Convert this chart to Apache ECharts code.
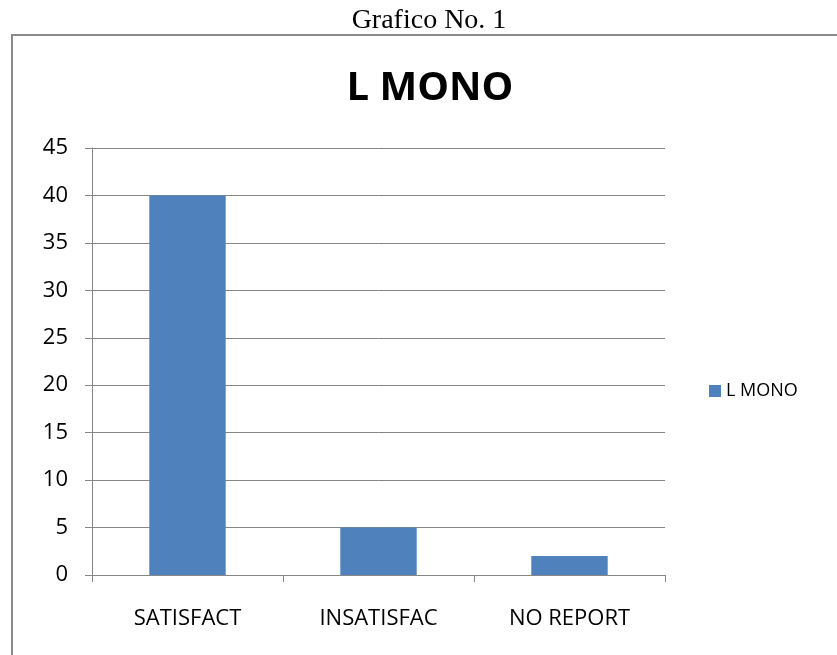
<!DOCTYPE html>
<html>
<head>
<meta charset="utf-8">
<script src="https://cdn.jsdelivr.net/npm/echarts@6/dist/echarts.min.js"></script>
<style>
  html, body { margin: 0; padding: 0; background: #fff; }
  #chart { width: 837px; height: 655px; }
</style>
</head>
<body>
<div id="chart"></div>
<script>
const categories = ["SATISFACT", "INSATISFAC", "NO REPORT"];
const values = [40, 5, 2];
const seriesName = "L MONO";

const chart = echarts.init(document.getElementById("chart"));
chart.setOption({
  animation: false,
  title: [
    {
      text: "Grafico No. 1",
      left: 424,
      top: 2,
      textAlign: "center",
      textStyle: { fontFamily: "Liberation Serif", fontSize: 28, fontWeight: "normal", color: "#000" },
    },
    {
      text: "L MONO",
      left: 425,
      top: 64,
      textAlign: "center",
      textStyle: { fontFamily: "Open Sans", fontSize: 40, fontWeight: "bold", color: "#000" },
    },
  ],
  graphic: [
    {
      type: "rect",
      shape: { x: 12, y: 35, width: 840, height: 640 },
      style: { fill: "none", stroke: "#8a8a8a", lineWidth: 2 },
      silent: true,
    },
  ],
  legend: {
    left: 704,
    top: 377,
    itemWidth: 12,
    itemHeight: 12,
    icon: "rect",
    textStyle: { fontFamily: "Open Sans", fontSize: 18, color: "#000" },
    data: [seriesName],
  },
  grid: { left: 92, right: 172, top: 148, bottom: 80, containLabel: false },
  xAxis: {
    type: "category",
    data: categories,
    axisLine: { lineStyle: { color: "#868686" } },
    axisTick: { show: true, length: 7, lineStyle: { color: "#868686" } },
    axisLabel: { margin: 33, fontFamily: "Open Sans", fontSize: 22, color: "#000" },
  },
  yAxis: {
    type: "value",
    min: 0,
    max: 45,
    interval: 5,
    axisLine: { show: true, lineStyle: { color: "#868686" } },
    axisTick: { show: true, length: 7, lineStyle: { color: "#868686" } },
    axisLabel: { margin: 24, fontFamily: "Open Sans", fontSize: 22, color: "#000" },
    splitLine: { lineStyle: { color: "#868686" } },
  },
  series: [
    {
      name: seriesName,
      type: "bar",
      data: values,
      barWidth: "40%",
      itemStyle: { color: "#4f81bd" },
    },
  ],
});
</script>
</body>
</html>
